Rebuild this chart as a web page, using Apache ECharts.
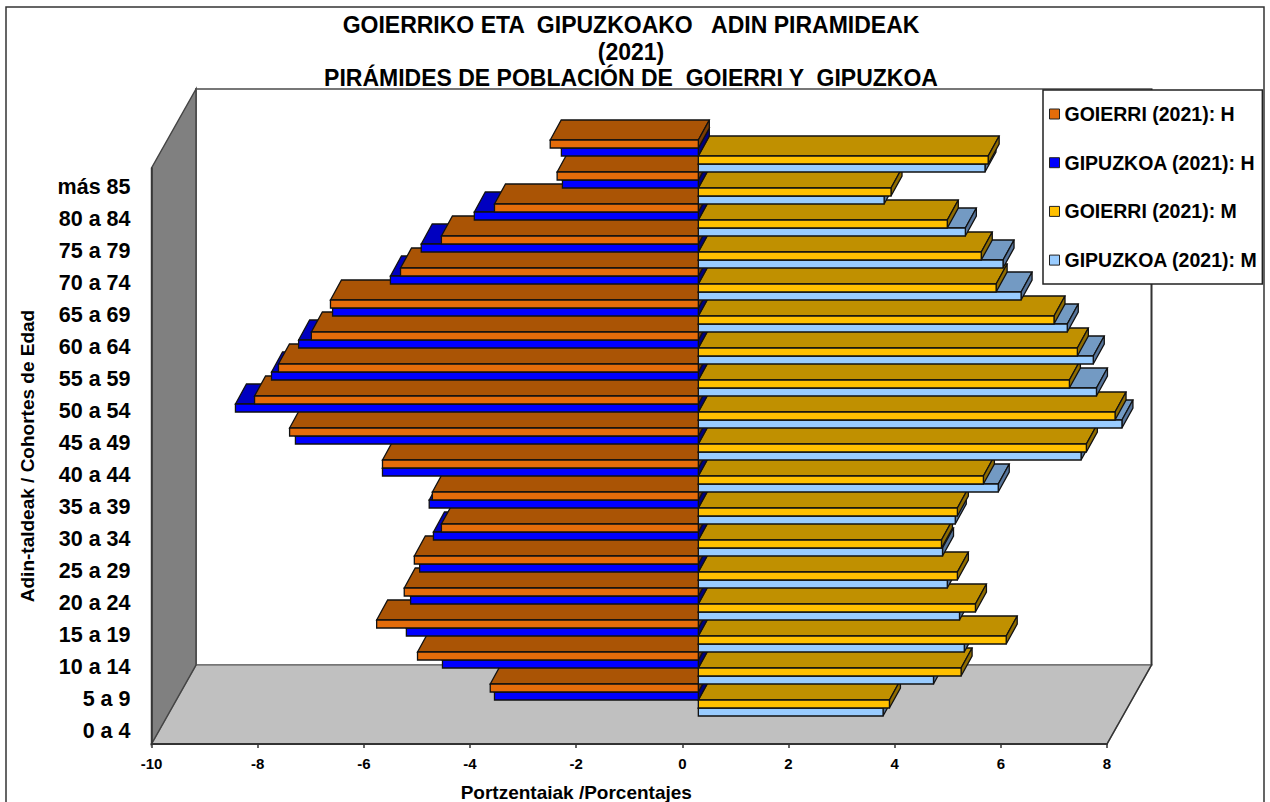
<!DOCTYPE html>
<html>
<head>
<meta charset="utf-8">
<title>Adin piramideak</title>
<script src="https://cdn.jsdelivr.net/npm/echarts@6/dist/echarts.min.js"></script>
<style>
	html, body { margin: 0; padding: 0; background: #fff; }
</style>
</head>
<body>
<div id="main" style="width: 1270px;height:802px;"></div>
<script type="text/javascript">
	var titleText = 'GOIERRIKO ETA  GIPUZKOAKO   ADIN PIRAMIDEAK\n(2021)\nPIRÁMIDES DE POBLACIÓN DE  GOIERRI Y  GIPUZKOA';

	// de abajo a arriba, igual que el eje
	var ageGroups = ['0 a 4', '5 a 9', '10 a 14', '15 a 19', '20 a 24', '25 a 29', '30 a 34', '35 a 39', '40 a 44',
		'45 a 49', '50 a 54', '55 a 59', '60 a 64', '65 a 69', '70 a 74', '75 a 79', '80 a 84', 'más 85'];

	var goierriH = [-3.92, -5.29, -6.06, -5.54, -5.35, -4.84, -5.01, -5.95, -7.70, -8.36, -7.91, -7.29, -6.93, -5.61, -4.84, -3.84, -2.66, -2.79];
	var gipuzkoaH = [-3.84, -4.82, -5.50, -5.42, -5.25, -4.99, -5.07, -5.95, -7.59, -8.72, -8.04, -7.53, -6.89, -5.80, -5.22, -4.22, -2.56, -2.58];
	var goierriM = [3.60, 4.95, 5.80, 5.22, 4.88, 4.58, 4.88, 5.37, 7.31, 7.85, 6.99, 7.14, 6.70, 5.61, 5.33, 4.69, 3.63, 5.46];
	var gipuzkoaM = [3.48, 4.43, 5.01, 4.92, 4.69, 4.60, 4.84, 5.65, 7.21, 7.98, 7.50, 7.44, 6.95, 6.08, 5.74, 5.03, 3.50, 5.40];

	var FONT = '"Liberation Sans", Arial, sans-serif';

	// perspectiva de las barras 3D
	var WALL_DX = 44.5, WALL_DY = 79; // fondo de la caja
	var BAR_DX = 16, BAR_DY = 28;   // cara frontal de las barras respecto al plano del eje
	var TOP_DX = 11, TOP_DY = 20;   // profundidad de cada barra

	var chart = echarts.init(document.getElementById('main'), null, {
		renderer: 'svg'
	});

	function poly(points, fill, z2, stroke, lineWidth) {
		return {
			type: 'polygon',
			z2: z2,
			shape: { points: points },
			style: { fill: fill, stroke: stroke || '#111', lineWidth: lineWidth === undefined ? 1.3 : lineWidth }
		};
	}

	// caja: pared izquierda, suelo y fondo
	function renderWalls(params) {
		var c = params.coordSys;
		var l = c.x, r = c.x + c.width, t = c.y, b = c.y + c.height;
		var dx = WALL_DX, dy = WALL_DY;
		return {
			type: 'group',
			children: [
				poly([[l + dx, t - dy], [r + dx, t - dy], [r + dx, b - dy], [l + dx, b - dy]], '#fff', 1, '#777', 2),
				poly([[l, b], [l + dx, b - dy], [r + dx, b - dy], [r, b]], '#C0C0C0', 2, '#777', 1.5),
				poly([[l, t], [l + dx, t - dy], [l + dx, b - dy], [l, b]], '#808080', 3, '#444', 1.5),
				{
					type: 'line',
					z2: 4,
					shape: { x1: r + dx, y1: t - dy, x2: r + dx, y2: b - dy },
					style: { stroke: '#333', lineWidth: 1.5 }
				},
				{
					type: 'line',
					z2: 4,
					shape: { x1: r, y1: b, x2: r + dx, y2: b - dy },
					style: { stroke: '#333', lineWidth: 1.5 }
				}
			]
		};
	}

	// slot: posicion dentro de la categoria (0 arriba, 3 abajo)
	function barRenderer(slot, colors) {
		return function(params, api) {
			var cat = api.value(1);
			var end = api.coord([api.value(0), cat]);
			var zero = api.coord([0, cat]);
			var band = api.size([0, 1])[1];
			var h = band / 4;
			var y0 = end[1] - band / 2 - BAR_DY + slot * h;
			var y1 = y0 + h;
			var x0 = Math.min(end[0], zero[0]) + BAR_DX;
			var x1 = Math.max(end[0], zero[0]) + BAR_DX;
			var z2 = 10 + cat * 10 + (3 - slot);
			return {
				type: 'group',
				children: [
					poly([[x0, y0], [x0 + TOP_DX, y0 - TOP_DY], [x1 + TOP_DX, y0 - TOP_DY], [x1, y0]], colors[1], z2),
					poly([[x1, y0], [x1 + TOP_DX, y0 - TOP_DY], [x1 + TOP_DX, y1 - TOP_DY], [x1, y1]], colors[2], z2),
					poly([[x0, y0], [x1, y0], [x1, y1], [x0, y1]], colors[0], z2)
				]
			};
		};
	}

	function barSeries(name, values, slot, colors) {
		return {
			name: name,
			type: 'custom',
			z: 4,
			itemStyle: { color: colors[0] },
			encode: { x: 0, y: 1 },
			renderItem: barRenderer(slot, colors),
			data: values.map(function(v, i) { return [v, i]; })
		};
	}

	var seriesNames = ['GOIERRI (2021): H', 'GIPUZKOA (2021): H', 'GOIERRI (2021): M', 'GIPUZKOA (2021): M'];

	chart.setOption({
		animation: false,
		backgroundColor: '#fff',
		title: {
			text: titleText,
			left: 631,
			top: 12,
			padding: 0,
			textAlign: 'center',
			textStyle: { fontFamily: FONT, fontSize: 23, fontWeight: 'bold', color: '#000', lineHeight: 26.5 }
		},
		graphic: [{
			type: 'rect',
			silent: true,
			shape: { x: 6, y: 7, width: 1258, height: 810 },
			style: { fill: 'none', stroke: '#333', lineWidth: 1.5 }
		}],
		grid: { left: 151.5, top: 168, width: 955.5, height: 576, outerBoundsMode: 'none' },
		legend: {
			data: seriesNames,
			orient: 'vertical',
			left: 1043,
			top: 90,
			padding: [14, 5, 14, 6],
			itemWidth: 10,
			itemHeight: 10,
			itemGap: 28.7,
			icon: 'rect',
			backgroundColor: '#fff',
			borderColor: '#222',
			borderWidth: 1.5,
			z: 10,
			selectedMode: false,
			itemStyle: { borderColor: '#222', borderWidth: 1 },
			textStyle: { fontFamily: FONT, fontSize: 19.5, fontWeight: 'bold', color: '#000', lineHeight: 16 }
		},
		xAxis: {
			type: 'value',
			min: -10,
			max: 8,
			interval: 2,
			z: 6,
			splitLine: { show: false },
			axisLine: { show: true, onZero: false, lineStyle: { color: '#333', width: 2 } },
			axisTick: { show: true, length: 4, lineStyle: { color: '#333', width: 1.5 } },
			axisLabel: { fontFamily: FONT, fontSize: 15, fontWeight: 'bold', color: '#000', margin: 12 },
			name: 'Portzentaiak /Porcentajes',
			nameLocation: 'middle',
			nameGap: 39,
			nameTextStyle: { fontFamily: FONT, fontSize: 19, fontWeight: 'bold', color: '#000', padding: [0, 106, 0, 0] }
		},
		yAxis: {
			type: 'category',
			data: ageGroups,
			z: 6,
			axisLine: { show: true, onZero: false, lineStyle: { color: '#333', width: 1.5 } },
			axisTick: { show: false },
			axisLabel: { fontFamily: FONT, fontSize: 21.5, fontWeight: 'bold', color: '#000', margin: 21, interval: 0, verticalAlign: 'top', lineHeight: 6 },
			name: 'Adin-taldeak / Cohortes de Edad',
			nameLocation: 'middle',
			nameRotate: 90,
			nameGap: 115,
			nameTextStyle: { fontFamily: FONT, fontSize: 19, fontWeight: 'bold', color: '#000' }
		},
		series: [
			{
				name: 'box',
				type: 'custom',
				z: 1,
				silent: true,
				renderItem: renderWalls,
				data: [0]
			},
			barSeries(seriesNames[0], goierriH, 0, ['#E46C0A', '#AA5405', '#7A3C03']),
			barSeries(seriesNames[1], gipuzkoaH, 1, ['#0000FF', '#0000C0', '#000080']),
			barSeries(seriesNames[2], goierriM, 2, ['#FFC000', '#C09000', '#8F6C00']),
			barSeries(seriesNames[3], gipuzkoaM, 3, ['#99CCFF', '#739AC3', '#56749A'])
		]
	});
</script>
</body>
</html>
